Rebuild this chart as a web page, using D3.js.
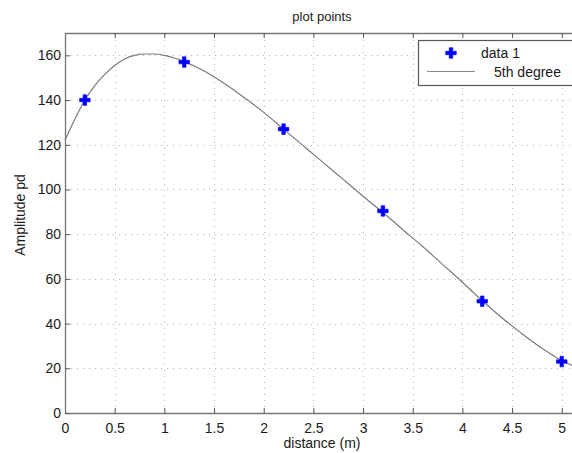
<!DOCTYPE html>
<html>
<head>
<meta charset="utf-8">
<script src="https://cdn.jsdelivr.net/npm/d3@7"></script>
<style>
  body { margin: 0; background: #fff; }
  text { font-family: "Liberation Sans", Arial, sans-serif; fill: #1a1a1a; }
</style>
</head>
<body>
<div id="chart"></div>
<script>
// measured points (data 1)
const pointX = [0.2, 1.2, 2.2, 3.2, 4.2, 5.0];
const pointY = [140, 157, 127, 90.4, 50, 23];

// 5th degree fit
const fitX = [0, 0.1, 0.2, 0.3, 0.4, 0.5, 0.6, 0.7, 0.8, 0.9, 1.0, 1.1, 1.2, 1.4, 1.6, 1.8, 2.0,
              2.2, 2.4, 2.6, 2.8, 3.0, 3.2, 3.4, 3.6, 3.8, 4.0, 4.2, 4.4, 4.6, 4.8, 5.0, 5.2];
const fitY = [122, 131.5, 140, 146.5, 151.5, 155.5, 158.4, 160, 160.6, 160.6, 160, 158.8, 157.2,
              153, 147.5, 141.3, 134.5, 127, 119.5, 112, 104.5, 97, 89.7, 82, 74.5, 66.5, 58.5,
              50.2, 42.5, 35.5, 29, 23.5, 19.5];

const xTicks = [0, 0.5, 1, 1.5, 2, 2.5, 3, 3.5, 4, 4.5, 5];
const yTicks = [0, 20, 40, 60, 80, 100, 120, 140, 160];

function createChart() {
    const width = 572;
    const height = 453;
    const margin = { top: 33, left: 65, bottom: 40 };
    const pxPerUnit = 99.35;

    const svg = d3.select("#chart")
        .append("svg")
        .attr("width", width)
        .attr("height", height);

    const x = d3.scaleLinear()
        .domain([0, 5.2])
        .range([margin.left, margin.left + 5.2 * pxPerUnit]);

    const y = d3.scaleLinear()
        .domain([0, 170])
        .range([height - margin.bottom, margin.top]);

    const x0 = x.range()[0], x1 = x.range()[1];
    const y0 = y.range()[0], y1 = y.range()[1];

    // dotted grid
    const grid = svg.append("g").attr("stroke", "#b4b4b4").attr("stroke-width", 1)
        .attr("stroke-dasharray", "1,5");
    grid.selectAll(".gx").data(xTicks.slice(1)).enter().append("line")
        .attr("x1", d => Math.round(x(d)) + 0.5).attr("x2", d => Math.round(x(d)) + 0.5)
        .attr("y1", y0).attr("y2", y1);
    grid.selectAll(".gy").data(yTicks.slice(1)).enter().append("line")
        .attr("y1", d => Math.round(y(d)) + 0.5).attr("y2", d => Math.round(y(d)) + 0.5)
        .attr("x1", x0).attr("x2", x1);

    // axes, ticks pointing inward like matlab
    const axisStyle = g => {
        g.select(".domain").attr("stroke", "#777").attr("stroke-width", 1.3);
        g.selectAll(".tick line").attr("stroke", "#555");
        g.selectAll(".tick text").style("font-size", "14px").attr("fill", "#1a1a1a");
    };

    svg.append("g")
        .attr("transform", `translate(0, ${y0})`)
        .call(d3.axisBottom(x).tickValues(xTicks).tickSize(-5).tickSizeOuter(0)
            .tickPadding(10).tickFormat(d3.format("")))
        .call(axisStyle);

    svg.append("g")
        .attr("transform", `translate(0, ${y1})`)
        .call(d3.axisTop(x).tickValues(xTicks).tickSize(-5).tickSizeOuter(0).tickFormat(""))
        .call(axisStyle);

    svg.append("g")
        .attr("transform", `translate(${x0}, 0)`)
        .call(d3.axisLeft(y).tickValues(yTicks).tickSize(-5).tickSizeOuter(0).tickPadding(4))
        .call(axisStyle);

    // fitted curve
    const line = d3.line()
        .x((d, i) => x(fitX[i]))
        .y(d => y(d))
        .curve(d3.curveMonotoneX);

    svg.append("path")
        .datum(fitY)
        .attr("fill", "none")
        .attr("stroke", "#7a7a7a")
        .attr("stroke-width", 1.2)
        .attr("d", line);

    // plus markers
    const plus = d3.symbol().type(d3.symbolCross).size(62);
    svg.selectAll(".pt")
        .data(pointY)
        .enter().append("path")
        .attr("class", "pt")
        .attr("transform", (d, i) => `translate(${x(pointX[i])}, ${y(d)})`)
        .attr("d", plus)
        .attr("fill", "#0000ff")
        .attr("stroke", "#0000ff")
        .attr("stroke-width", 0.6);

    // title and labels
    svg.append("text")
        .attr("x", 322).attr("y", 21)
        .attr("text-anchor", "middle")
        .style("font-size", "13px")
        .text("plot points");

    svg.append("text")
        .attr("x", 322).attr("y", 448)
        .attr("text-anchor", "middle")
        .style("font-size", "14px")
        .text("distance (m)");

    svg.append("text")
        .attr("transform", "translate(25, 215) rotate(-90)")
        .attr("text-anchor", "middle")
        .style("font-size", "14px")
        .text("Amplitude pd");

    // legend
    const legend = svg.append("g");
    legend.append("rect")
        .attr("x", 418.5).attr("y", 40.5)
        .attr("width", 170).attr("height", 45)
        .attr("fill", "#fff")
        .attr("stroke", "#555")
        .attr("stroke-width", 1.2);
    legend.append("path")
        .attr("transform", "translate(451, 53)")
        .attr("d", plus)
        .attr("fill", "#0000ff")
        .attr("stroke", "#0000ff")
        .attr("stroke-width", 0.6);
    legend.append("text")
        .attr("x", 481).attr("y", 58)
        .style("font-size", "14px")
        .text("data 1");
    legend.append("line")
        .attr("x1", 427).attr("x2", 475)
        .attr("y1", 71.5).attr("y2", 71.5)
        .attr("stroke", "#8a8a8a")
        .attr("stroke-width", 1.2);
    legend.append("text")
        .attr("x", 494).attr("y", 77)
        .style("font-size", "14px")
        .text("5th degree");
}

document.addEventListener("DOMContentLoaded", createChart);
</script>
</body>
</html>
